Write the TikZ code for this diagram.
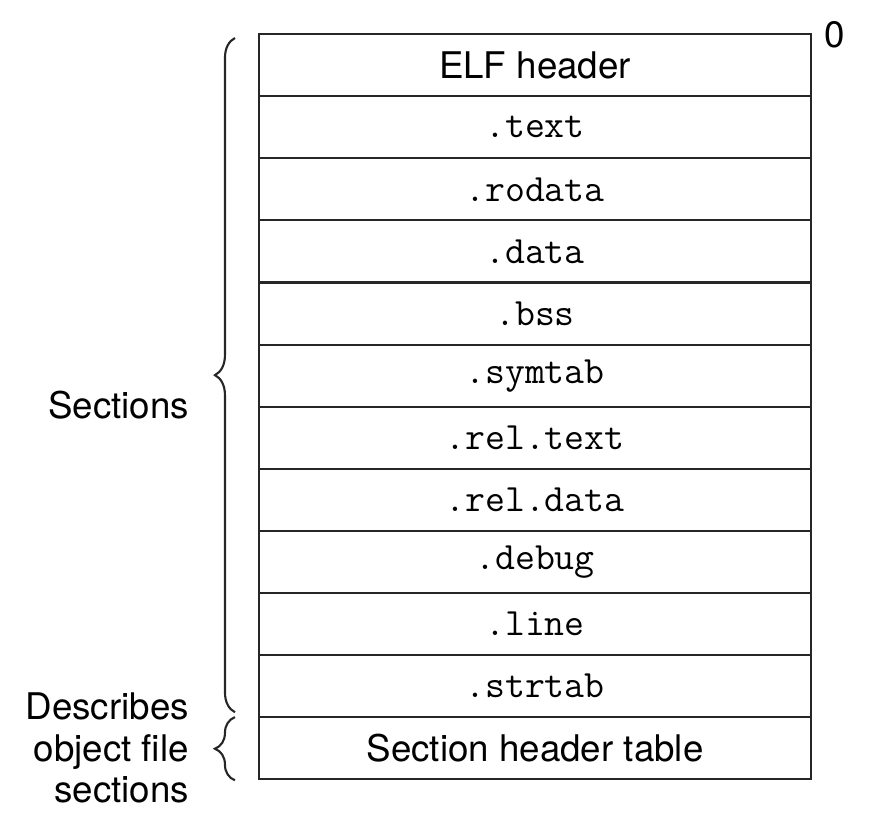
\documentclass[tikz,border=0pt]{standalone}
\usepackage{fontspec}
\setmainfont{TeX Gyre Heros}
\usetikzlibrary{calc}
\usetikzlibrary{decorations.pathreplacing}

\begin{document}
\begin{tikzpicture}[
	line width=0.6pt,
	rowbox/.style={draw=black!85,minimum width=5.52cm,minimum height=0.621cm,inner sep=0pt,anchor=north},
	lbl/.style={font=\fontsize{10.45}{11.8}\selectfont,align=right,anchor=east,inner sep=0pt},
	sbrace/.style={draw=black!85,decorate,decoration={brace,amplitude=0.2cm}}
]
	\useasboundingbox (0,0) rectangle (8.78,-8.28);

	\newcommand\secRow[3]{\node[rowbox] at (5.35,-0.33 - #1 * 0.621) (#2) {#3};}
	\newcommand\secTT[1]{\fontsize{11}{12}\selectfont\ttfamily\addfontfeatures{FakeBold=0.35}#1}

	\secRow{0}{elf}{\fontsize{10.45}{12}\selectfont ELF header}
	\foreach \name [count=\i] in {text,rodata,data,bss,symtab,rel.text,rel.data,debug,line,strtab}
	{
		\secRow{\i}{row\i}{\secTT{.\name}}
	}
	\secRow{11}{sht}{\fontsize{10.45}{12}\selectfont Section header table}

	\node[font=\fontsize{10.45}{12}\selectfont,inner sep=0pt] at (8.35,-0.35) (zero) {0};

	% braces
	\coordinate (secTop) at ($(elf.north west)+(-0.23,-0.05)$);
	\coordinate (secBot) at ($(row10.south west)+(-0.23,0.06)$);
	\coordinate (shtTop) at ($(sht.north west)+(-0.23,-0.01)$);
	\coordinate (shtBot) at ($(sht.south west)+(-0.23,0)$);
	\draw[sbrace] (secBot) -- (secTop);
	\draw[sbrace] (shtBot) -- (shtTop);

	\node[lbl] at (1.90,-4.05) (sections) {Sections};
	\node[lbl] at (1.90,-7.48) (describes) {Describes\\object file\\sections};
\end{tikzpicture}
\end{document}
